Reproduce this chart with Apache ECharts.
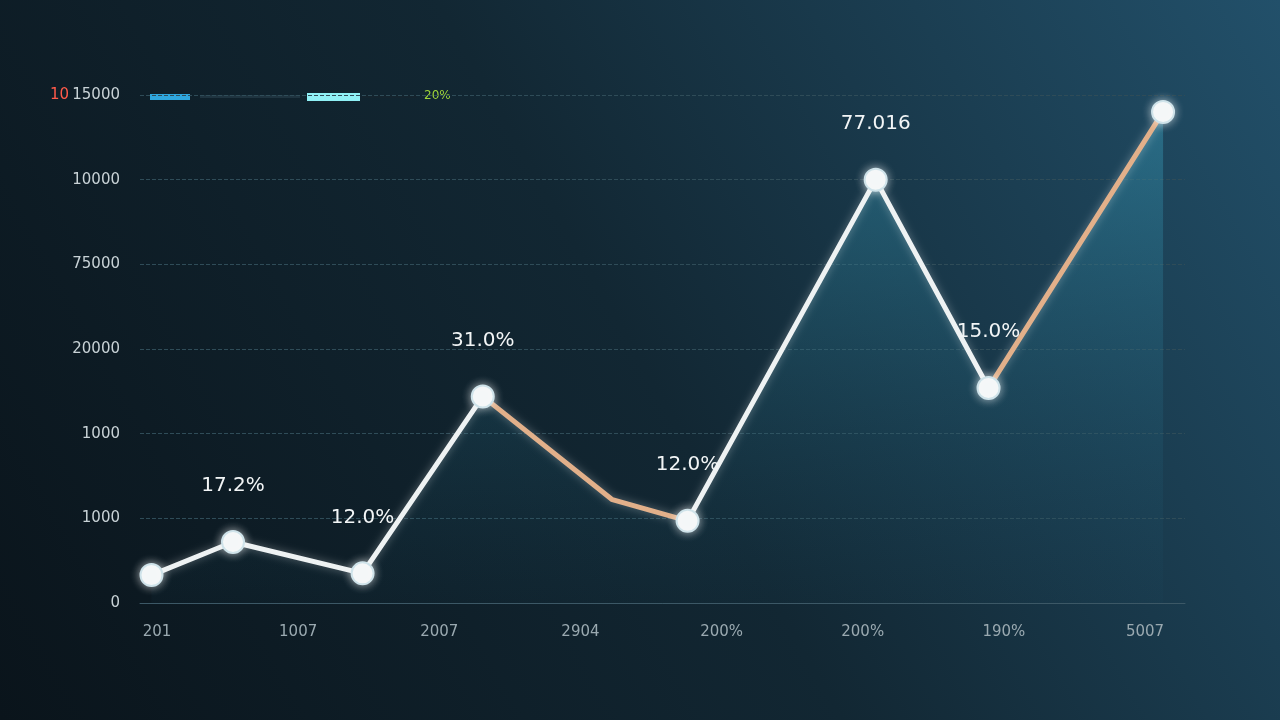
<!DOCTYPE html>
<html>
<head>
<meta charset="utf-8">
<script src="https://cdn.jsdelivr.net/npm/echarts@6/dist/echarts.min.js"></script>
<style>
html,body{margin:0;padding:0;background:#0c1820;}
#chart{width:1280px;height:720px;}
</style>
</head>
<body>
<div id="chart"></div>
<script>
// tick labels as printed on the picture
var yTicks = ["0", "1000", "1000", "20000", "75000", "10000", "15000"];
var xTicks = ["201", "1007", "2007", "2904", "200%", "200%", "190%", "5007"];
// line points: position along the axis (0-100) and level (in tick steps)
var pointX = [1.1, 8.9, 21.3, 32.8, 45.2, 52.4, 70.4, 81.2, 97.9];
var pointY = [0.33, 0.72, 0.35, 2.44, 1.22, 0.97, 5.0, 2.54, 5.8];
var pointLabels = ["", "17.2%", "12.0%", "31.0%", "", "12.0%", "77.016", "15.0%", ""];
var showMarker = [true, true, true, true, false, true, true, true, true];

var lineData = [];
var markerData = [];
for (var i = 0; i < pointX.length; i++) {
	lineData.push([pointX[i], pointY[i]]);
	markerData.push({
		value: [pointX[i], pointY[i]],
		symbolSize: showMarker[i] ? 22 : 0,
		label: {show: pointLabels[i] !== "", formatter: pointLabels[i]}
	});
}

var myChart = echarts.init(document.getElementById('chart'));
var option = {
	backgroundColor: new echarts.graphic.LinearGradient(0, 1, 1, 0, [
		{offset: 0, color: '#0a141b'},
		{offset: 0.5, color: '#122733'},
		{offset: 1, color: '#22506a'}
	]),
	grid: [
		{left: 140, right: 95, top: 95, bottom: 117},
		{left: 157, right: 135, top: 95, bottom: 117}
	],
	xAxis: [
		{type: 'value', gridIndex: 0, min: 0, max: 100,
			axisLine: {show: true, lineStyle: {color: '#3c5866'}},
			axisTick: {show: false}, axisLabel: {show: false}, splitLine: {show: false}},
		{type: 'category', gridIndex: 1, data: xTicks, boundaryGap: false,
			axisLine: {show: false}, axisTick: {show: false},
			axisLabel: {color: '#9aa9b0', fontSize: 15, margin: 22, fontFamily: 'DejaVu Sans'}}
	],
	yAxis: [
		{type: 'value', gridIndex: 0, min: 0, max: 6, interval: 1,
			axisLine: {show: false}, axisTick: {show: false},
			axisLabel: {color: '#c8d2d6', fontSize: 15, margin: 20, fontFamily: 'DejaVu Sans',
				formatter: function (v) { return yTicks[v] || ''; }},
			splitLine: {lineStyle: {color: '#2f4c58', type: 'dashed'}}},
		{type: 'value', gridIndex: 1, show: false}
	],
	visualMap: {
		show: false, dimension: 0, seriesIndex: 0,
		pieces: [
			{lt: 32.8, color: '#eef2f3'},
			{gte: 32.8, lt: 52.4, color: '#e2b08a'},
			{gte: 52.4, lt: 81.2, color: '#eef2f3'},
			{gte: 81.2, color: '#e2b08a'}
		]
	},
	graphic: [
		{type: 'text', left: 50, top: 88, style: {text: '10', fill: '#ff5a4a', font: '15px DejaVu Sans'}},
		{type: 'rect', shape: {x: 150, y: 94, width: 40, height: 6}, style: {fill: '#2fa6dd'}},
		{type: 'rect', shape: {x: 200, y: 95, width: 100, height: 3}, style: {fill: '#1f3440'}},
		{type: 'rect', shape: {x: 307, y: 93, width: 53, height: 8}, style: {fill: '#8ff0f5'}},
		{type: 'rect', shape: {x: 362, y: 95, width: 55, height: 3}, style: {fill: '#14242e'}},
		{type: 'text', left: 424, top: 90, style: {text: '20%', fill: '#9ed43a', font: '12px DejaVu Sans'}}
	],
	series: [{
		type: 'line',
		xAxisIndex: 0, yAxisIndex: 0,
		data: lineData,
		symbol: 'none',
		lineStyle: {width: 5, shadowBlur: 8, shadowColor: 'rgba(255,255,255,0.35)'},
		areaStyle: {
			color: new echarts.graphic.LinearGradient(0, 0, 0, 1, [
				{offset: 0, color: 'rgba(60,170,200,0.55)'},
				{offset: 1, color: 'rgba(30,90,115,0.08)'}
			])
		}
	}, {
		type: 'scatter',
		xAxisIndex: 0, yAxisIndex: 0,
		data: markerData,
		symbol: 'circle',
		z: 5,
		itemStyle: {color: '#f4f7f8', borderColor: '#cfe3ea', borderWidth: 2, shadowBlur: 10, shadowColor: 'rgba(255,255,255,0.6)', opacity: 1},
		label: {position: 'top', distance: 34, color: '#f2f5f6', fontSize: 20, fontFamily: 'DejaVu Sans'}
	}]
};
myChart.setOption(option);
</script>
</body>
</html>
